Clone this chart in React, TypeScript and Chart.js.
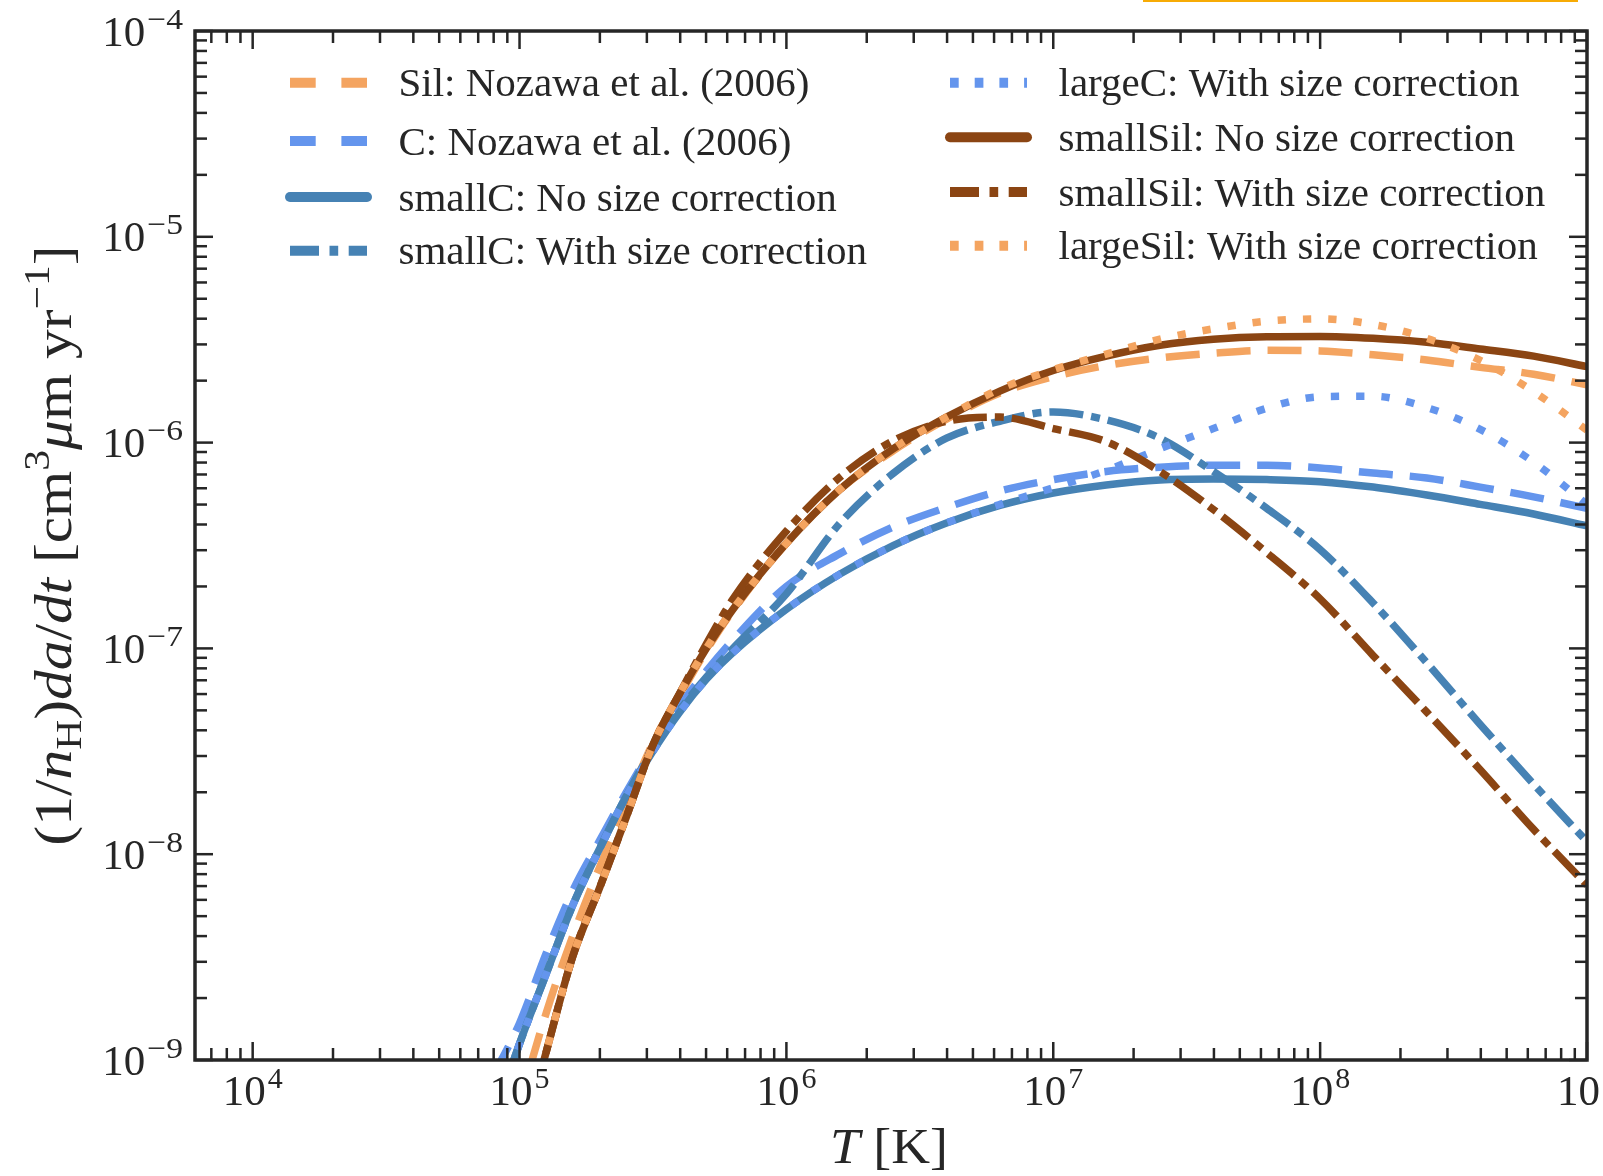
import React, { useEffect, useRef } from 'react';
import { Chart, registerables } from 'chart.js';

Chart.register(...registerables);

// ---------------- data ----------------
const TEMPERATURE_K = [
  7.94e4, 1.0e5, 1.26e5, 1.58e5, 2.0e5, 2.51e5, 3.16e5, 3.98e5, 5.01e5, 6.31e5, 1.0e6, 1.58e6, 2.51e6, 3.98e6,
  6.31e6, 1.0e7, 1.58e7, 2.51e7, 3.98e7, 6.31e7, 1.0e8, 1.58e8, 2.51e8, 3.98e8, 6.31e8, 1.0e9,
];

const SIL_NOZAWA = [
  1.78e-10, 6.03e-10, 1.7e-9, 3.98e-9, 8.71e-9, 1.74e-8, 3.47e-8, 5.89e-8, 9.77e-8, 1.53e-7, 3.24e-7, 5.89e-7, 9.12e-7,
  1.3e-6, 1.74e-6, 2.09e-6, 2.37e-6, 2.58e-6, 2.72e-6, 2.81e-6, 2.79e-6, 2.67e-6, 2.52e-6, 2.32e-6, 2.15e-6, 1.91e-6,
];

const C_NOZAWA = [
  8.32e-10, 1.51e-9, 3.31e-9, 6.61e-9, 1.17e-8, 2.0e-8, 3.31e-8, 5.25e-8, 7.76e-8, 1.1e-7, 2.0e-7, 2.88e-7, 3.89e-7,
  4.84e-7, 5.82e-7, 6.61e-7, 7.24e-7, 7.59e-7, 7.76e-7, 7.76e-7, 7.53e-7, 7.11e-7, 6.73e-7, 6.08e-7, 5.45e-7, 4.79e-7,
];

const SMALLC_NO = [
  5.01e-10, 1.2e-9, 2.63e-9, 5.62e-9, 1.07e-8, 1.91e-8, 3.16e-8, 4.9e-8, 7.08e-8, 9.55e-8, 1.55e-7, 2.29e-7, 3.16e-7,
  4.07e-7, 4.95e-7, 5.69e-7, 6.22e-7, 6.58e-7, 6.65e-7, 6.61e-7, 6.46e-7, 6.08e-7, 5.56e-7, 5.01e-7, 4.5e-7, 3.94e-7,
];

const SMALLC_WITH = [
  5.01e-10, 1.2e-9, 2.63e-9, 5.62e-9, 1.07e-8, 1.91e-8, 3.24e-8, 5.01e-8, 7.24e-8, 1.0e-7, 1.84e-7, 4.03e-7, 7.08e-7,
  1.05e-6, 1.27e-6, 1.41e-6, 1.29e-6, 1.05e-6, 7.24e-7, 4.79e-7, 3.02e-7, 1.66e-7, 8.51e-8, 4.27e-8, 2.19e-8, 1.15e-8,
];

const LARGEC_WITH = [
  5.01e-10, 1.2e-9, 2.63e-9, 5.62e-9, 1.07e-8, 1.91e-8, 3.16e-8, 4.9e-8, 7.08e-8, 9.55e-8, 1.55e-7, 2.29e-7, 3.16e-7,
  4.07e-7, 5.01e-7, 6.03e-7, 7.33e-7, 9.33e-7, 1.17e-6, 1.47e-6, 1.67e-6, 1.68e-6, 1.48e-6, 1.16e-6, 8.04e-7, 5.01e-7,
];

const SMALLSIL_NO = [
  1.0e-10, 3.55e-10, 1.1e-9, 3.16e-9, 6.92e-9, 1.51e-8, 3.39e-8, 6.03e-8, 1.0e-7, 1.55e-7, 3.24e-7, 5.89e-7, 9.33e-7,
  1.33e-6, 1.78e-6, 2.24e-6, 2.63e-6, 2.97e-6, 3.18e-6, 3.27e-6, 3.28e-6, 3.21e-6, 3.07e-6, 2.85e-6, 2.63e-6, 2.34e-6,
];

const SMALLSIL_WITH = [
  1.0e-10, 3.55e-10, 1.1e-9, 3.16e-9, 6.92e-9, 1.51e-8, 3.39e-8, 6.03e-8, 1.05e-7, 1.74e-7, 3.72e-7, 6.76e-7, 1.02e-6,
  1.27e-6, 1.33e-6, 1.17e-6, 1.01e-6, 7.24e-7, 4.73e-7, 2.92e-7, 1.74e-7, 9.23e-8, 4.9e-8, 2.57e-8, 1.32e-8, 7.08e-9,
];

const LARGESIL_WITH = [
  1.0e-10, 3.55e-10, 1.1e-9, 3.16e-9, 6.92e-9, 1.51e-8, 3.39e-8, 6.03e-8, 1.0e-7, 1.55e-7, 3.24e-7, 5.89e-7, 9.33e-7,
  1.33e-6, 1.82e-6, 2.26e-6, 2.69e-6, 3.18e-6, 3.57e-6, 3.89e-6, 3.99e-6, 3.75e-6, 3.21e-6, 2.51e-6, 1.77e-6, 1.15e-6,
];

const SERIES_LABELS = [
  'Sil: Nozawa et al. (2006)',
  'C: Nozawa et al. (2006)',
  'smallC: No size correction',
  'smallC: With size correction',
  'largeC: With size correction',
  'smallSil: No size correction',
  'smallSil: With size correction',
  'largeSil: With size correction',
];

const X_MAJOR = [1e4, 1e5, 1e6, 1e7, 1e8, 1e9];
const X_TICK_EXP = ['4', '5', '6', '7', '8', '9'];
const Y_MAJOR = [1e-9, 1e-8, 1e-7, 1e-6, 1e-5, 1e-4];
const Y_TICK_EXP = ['\u22129', '\u22128', '\u22127', '\u22126', '\u22125', '\u22124'];
const MINOR_MULT = [2, 3, 4, 5, 6, 7, 8, 9];

const X_MIN = 6.08e3;
const X_MAX = 1e9;
const Y_MIN = 1e-9;
const Y_MAX = 1e-4;

// ---------------- styles ----------------
const SANDY = '#F4A460';
const CORN = '#6495ED';
const STEEL = '#4682B4';
const SADDLE = '#8B4513';
const INK = '#262626';
const FONT = '"Liberation Serif", "Times New Roman", serif';

type Style = 'solid' | 'dashed' | 'dotted' | 'dashdot';

const SERIES: { values: number[]; color: string; style: Style }[] = [
  { values: SIL_NOZAWA, color: SANDY, style: 'dashed' },
  { values: C_NOZAWA, color: CORN, style: 'dashed' },
  { values: SMALLC_NO, color: STEEL, style: 'solid' },
  { values: SMALLC_WITH, color: STEEL, style: 'dashdot' },
  { values: LARGEC_WITH, color: CORN, style: 'dotted' },
  { values: SMALLSIL_NO, color: SADDLE, style: 'solid' },
  { values: SMALLSIL_WITH, color: SADDLE, style: 'dashdot' },
  { values: LARGESIL_WITH, color: SANDY, style: 'dotted' },
];

const PLOT_DASH: Record<Style, number[]> = {
  solid: [],
  dashed: [34, 17],
  dotted: [8.3, 17],
  dashdot: [34, 8, 9, 8],
};
const LEGEND_DASH: Record<Style, number[]> = {
  solid: [],
  dashed: [25.7, 25.7],
  dotted: [8.7, 16],
  dashdot: [29, 10.5, 8.7, 10.5],
};

const LEGEND_LEFT = { x0: 290, x1: 367, tx: 398.5, rows: [82.7, 141, 197, 250.7], idx: [0, 1, 2, 3] };
const LEGEND_RIGHT = { x0: 950, x1: 1027, tx: 1058.5, rows: [82.7, 137.3, 192, 245.7], idx: [4, 5, 6, 7] };

type Seg = { t: string; it?: boolean; sup?: boolean; sub?: boolean };
const Y_TITLE: Seg[] = [
  { t: '(1/' }, { t: 'n', it: true }, { t: 'H', sub: true }, { t: ')' },
  { t: 'da', it: true }, { t: '/' }, { t: 'dt', it: true },
  { t: ' [cm' }, { t: '3', sup: true }, { t: '\u03bc', it: true }, { t: 'm yr' }, { t: '\u22121', sup: true }, { t: ']' },
];
const X_TITLE: Seg[] = [{ t: 'T', it: true }, { t: ' [K]' }];

function segFont(s: Seg, size: number) {
  const sz = s.sup || s.sub ? size * 0.7 : size;
  return `${s.it ? 'italic ' : ''}${sz}px ${FONT}`;
}

function drawRich(ctx: CanvasRenderingContext2D, segs: Seg[], size: number, targetW: number) {
  const widths = segs.map((s) => {
    ctx.font = segFont(s, size);
    return ctx.measureText(s.t).width;
  });
  const w = widths.reduce((a, b) => a + b, 0);
  const sx = targetW / w;
  ctx.save();
  ctx.scale(sx, 1);
  let x = -w / 2;
  ctx.textAlign = 'left';
  ctx.textBaseline = 'alphabetic';
  segs.forEach((s, i) => {
    ctx.font = segFont(s, size);
    const dy = s.sup ? -size * 0.42 : s.sub ? size * 0.2 : 0;
    ctx.fillText(s.t, x, dy);
    x += widths[i];
  });
  ctx.restore();
}

function drawPow(ctx: CanvasRenderingContext2D, exp: string, x: number, y: number, align: 'center' | 'right') {
  ctx.font = `43px ${FONT}`;
  const wb = ctx.measureText('10').width;
  ctx.font = `30px ${FONT}`;
  const we = ctx.measureText(exp).width;
  const esx = exp.length > 1 ? 1.12 : 1;
  const gap = 2;
  const total = wb + gap + we * esx;
  const x0 = align === 'center' ? x - total / 2 : x - total;
  ctx.textAlign = 'left';
  ctx.textBaseline = 'alphabetic';
  ctx.font = `43px ${FONT}`;
  ctx.fillText('10', x0, y);
  ctx.font = `30px ${FONT}`;
  ctx.save();
  ctx.translate(x0 + wb + gap, y - 17);
  ctx.scale(esx, 1);
  ctx.fillText(exp, 0, 0);
  ctx.restore();
}

const framePlugin = {
  id: 'frame',
  afterDatasetsDraw(chart: any) {
    const ctx: CanvasRenderingContext2D = chart.ctx;
    const a = chart.chartArea;
    const xs = chart.scales.x;
    const ys = chart.scales.y;
    ctx.save();
    ctx.strokeStyle = INK;
    ctx.fillStyle = INK;
    ctx.setLineDash([]);
    ctx.lineCap = 'butt';

    const line = (x0: number, y0: number, x1: number, y1: number) => {
      ctx.beginPath();
      ctx.moveTo(x0, y0);
      ctx.lineTo(x1, y1);
      ctx.stroke();
    };

    // ticks (inward, on all four sides)
    ctx.lineWidth = 2.5;
    const xTicks: [number, boolean][] = [];
    [1e3, ...X_MAJOR].forEach((d) => {
      xTicks.push([d, true]);
      MINOR_MULT.forEach((m) => xTicks.push([d * m, false]));
    });
    xTicks.forEach(([v, major]) => {
      if (v < X_MIN || v > X_MAX) return;
      const px = xs.getPixelForValue(v);
      const len = major ? 18 : 12;
      line(px, a.bottom, px, a.bottom - len);
      line(px, a.top, px, a.top + len);
    });
    const yTicks: [number, boolean][] = [];
    Y_MAJOR.forEach((d) => {
      yTicks.push([d, true]);
      MINOR_MULT.forEach((m) => yTicks.push([d * m, false]));
    });
    yTicks.forEach(([v, major]) => {
      if (v < Y_MIN || v > Y_MAX * 1.0001) return;
      const py = ys.getPixelForValue(v);
      const len = major ? 18 : 12;
      line(a.left, py, a.left + len, py);
      line(a.right, py, a.right - len, py);
    });

    // spines
    ctx.lineWidth = 3.5;
    ctx.strokeRect(a.left, a.top, a.right - a.left, a.bottom - a.top);

    // tick labels
    X_MAJOR.forEach((v, i) => {
      drawPow(ctx, X_TICK_EXP[i], xs.getPixelForValue(v), a.bottom + 45, 'center');
    });
    Y_MAJOR.forEach((v, i) => {
      drawPow(ctx, Y_TICK_EXP[i], a.left - 12, ys.getPixelForValue(v) + 14.5, 'right');
    });

    // axis titles
    ctx.save();
    ctx.translate((a.left + a.right) / 2 - 2, 1163);
    drawRich(ctx, X_TITLE, 50, 118);
    ctx.restore();

    ctx.save();
    ctx.translate(71, (a.top + a.bottom) / 2);
    ctx.rotate(-Math.PI / 2);
    drawRich(ctx, Y_TITLE, 52, 600);
    ctx.restore();

    // legend (two columns inside the axes)
    [LEGEND_LEFT, LEGEND_RIGHT].forEach((col) => {
      col.idx.forEach((si, r) => {
        const s = SERIES[si];
        const y = col.rows[r];
        ctx.save();
        ctx.strokeStyle = s.color;
        ctx.lineWidth = 10;
        ctx.lineCap = s.style === 'solid' ? 'round' : 'butt';
        ctx.setLineDash(LEGEND_DASH[s.style]);
        line(col.x0, y, col.x1, y);
        ctx.restore();
        ctx.fillStyle = INK;
        ctx.font = `41px ${FONT}`;
        ctx.textAlign = 'left';
        ctx.textBaseline = 'alphabetic';
        ctx.fillText(SERIES_LABELS[si], col.tx, y + 13.6);
      });
    });

    ctx.restore();
  },
};

export default function App() {
  const ref = useRef<HTMLCanvasElement>(null);

  useEffect(() => {
    document.body.style.margin = '0';
    document.body.style.overflow = 'hidden';
    const canvas = ref.current;
    if (!canvas) return;

    const datasets = SERIES.map((s, i) => ({
      label: SERIES_LABELS[i],
      data: TEMPERATURE_K.map((t, k) => ({ x: t, y: s.values[k] })),
      borderColor: s.color,
      backgroundColor: s.color,
      borderWidth: 7.5,
      borderDash: PLOT_DASH[s.style],
      borderCapStyle: s.style === 'solid' ? 'round' : 'butt',
      borderJoinStyle: 'round',
      cubicInterpolationMode: 'monotone',
      pointRadius: 0,
      pointHoverRadius: 0,
      fill: false,
      clip: 0,
      order: SERIES.length - 1 - i,
    }));

    const chart = new Chart(canvas, {
      type: 'line',
      data: { datasets } as any,
      options: {
        animation: false,
        responsive: false,
        devicePixelRatio: 1,
        events: [],
        layout: { padding: { left: 195, top: 31, right: 16, bottom: 116 } },
        scales: {
          x: { type: 'logarithmic', min: X_MIN, max: X_MAX, display: false },
          y: { type: 'logarithmic', min: Y_MIN, max: Y_MAX, display: false },
        },
        plugins: { legend: { display: false }, tooltip: { enabled: false } },
      } as any,
      plugins: [framePlugin],
    });

    let alive = true;
    const fonts = (document as any).fonts;
    if (fonts && fonts.load) {
      Promise.all([fonts.load(`41px ${FONT}`), fonts.load(`italic 41px ${FONT}`)]).then(() => {
        if (alive) chart.draw();
      });
    }
    return () => {
      alive = false;
      chart.destroy();
    };
  }, []);

  return (
    <div style={{ position: 'relative', width: 1603, height: 1176, background: '#ffffff', overflow: 'hidden' }}>
      <canvas ref={ref} width={1603} height={1176} style={{ display: 'block', width: 1603, height: 1176 }} />
      <div style={{ position: 'absolute', left: 1143, top: 0, width: 435, height: 2, background: '#F7AB05' }} />
    </div>
  );
}
